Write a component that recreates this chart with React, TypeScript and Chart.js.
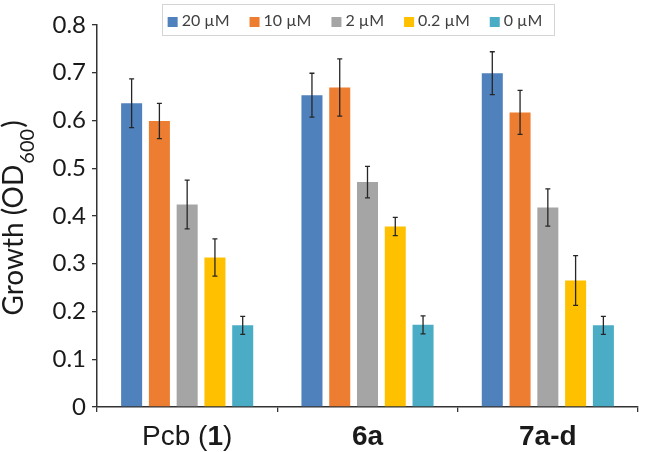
import React, { useEffect, useRef } from "react";
import { Chart, registerables } from "chart.js";

Chart.register(...registerables);

// categories (use **..** to mark bold parts)
const categories = ["Pcb (**1**)", "**6a**", "**7a-d**"];
const seriesLabels = ["20 µM", "10 µM", "2 µM", "0.2 µM", "0 µM"];
const seriesColors = ["#4F81BD", "#ED7D31", "#A5A5A5", "#FFC000", "#4BACC6"];

const s20 = [0.636, 0.653, 0.699];
const s10 = [0.599, 0.669, 0.617];
const s2 = [0.424, 0.471, 0.418];
const s02 = [0.313, 0.378, 0.265];
const s0 = [0.171, 0.172, 0.171];

const e20 = [0.051, 0.046, 0.045];
const e10 = [0.037, 0.06, 0.046];
const e2 = [0.051, 0.033, 0.039];
const e02 = [0.039, 0.019, 0.052];
const e0 = [0.019, 0.019, 0.019];

const seriesValues = [s20, s10, s2, s02, s0];
const seriesErrors = [e20, e10, e2, e02, e0];

const yTitleMain = "Growth (OD";
const yTitleSub = "600";
const yTitleEnd = ")";

const parseParts = (s: string) => {
  const parts: { t: string; b: boolean }[] = [];
  const re = /\*\*(.+?)\*\*/g;
  let last = 0;
  let m;
  while ((m = re.exec(s)) !== null) {
    if (m.index > last) parts.push({ t: s.slice(last, m.index), b: false });
    parts.push({ t: m[1], b: true });
    last = m.index + m[0].length;
  }
  if (last < s.length) parts.push({ t: s.slice(last), b: false });
  return parts;
};

const errorBarPlugin = {
  id: "errorBars",
  afterDatasetsDraw(chart: any) {
    const ctx = chart.ctx;
    const y = chart.scales.y;
    ctx.save();
    ctx.strokeStyle = "#262626";
    ctx.lineWidth = 1.3;
    chart.data.datasets.forEach((ds: any, i: number) => {
      const meta = chart.getDatasetMeta(i);
      meta.data.forEach((el: any, j: number) => {
        const v = ds.data[j];
        const e = ds.errors[j];
        const top = y.getPixelForValue(v + e);
        const bot = y.getPixelForValue(v - e);
        const x = el.x;
        ctx.beginPath();
        ctx.moveTo(x, top);
        ctx.lineTo(x, bot);
        ctx.moveTo(x - 2.5, top);
        ctx.lineTo(x + 2.5, top);
        ctx.moveTo(x - 2.5, bot);
        ctx.lineTo(x + 2.5, bot);
        ctx.stroke();
      });
    });
    ctx.restore();
  },
};

const labelsPlugin = {
  id: "customLabels",
  afterDraw(chart: any) {
    const ctx = chart.ctx;
    const xs = chart.scales.x;
    const area = chart.chartArea;
    ctx.save();
    // x category labels with mixed weight
    ctx.fillStyle = "#1a1a1a";
    ctx.textBaseline = "alphabetic";
    ctx.textAlign = "left";
    chart.data.labels.forEach((lab: string, i: number) => {
      const parts = parseParts(lab);
      const fontFor = (b: boolean) =>
        (b ? "bold " : "") + "28px 'Liberation Sans', Arial, sans-serif";
      let total = 0;
      parts.forEach((p) => {
        ctx.font = fontFor(p.b);
        total += ctx.measureText(p.t).width;
      });
      let x = xs.getPixelForValue(i) - total / 2;
      parts.forEach((p) => {
        ctx.font = fontFor(p.b);
        ctx.fillText(p.t, x, area.bottom + 38);
        x += ctx.measureText(p.t).width;
      });
    });

    // y axis title, rotated, with subscript
    const mainFont = "28px Lato, 'Open Sans', sans-serif";
    const subFont = "20px Lato, 'Open Sans', sans-serif";
    ctx.font = mainFont;
    const w1 = ctx.measureText(yTitleMain).width;
    const w3 = ctx.measureText(yTitleEnd).width;
    ctx.font = subFont;
    const w2 = ctx.measureText(yTitleSub).width;
    const total = w1 + w2 + w3 + 2;
    const cy = (area.top + area.bottom) / 2 + 2;
    ctx.translate(23, cy + total / 2);
    ctx.rotate(-Math.PI / 2);
    ctx.fillStyle = "#1a1a1a";
    ctx.font = mainFont;
    ctx.fillText(yTitleMain, 0, 0);
    ctx.font = subFont;
    ctx.fillText(yTitleSub, w1 + 1, 11);
    ctx.font = mainFont;
    ctx.fillText(yTitleEnd, w1 + w2 + 2, 0);
    ctx.restore();

    // legend
    ctx.save();
    const lf = "16px Lato, 'Open Sans', sans-serif";
    ctx.font = lf;
    const box = 10;
    const gapText = 4;
    const gapItem = 20;
    const widths = chart.data.datasets.map((d: any) => ctx.measureText(d.label).width);
    const tot =
      widths.reduce((a: number, b: number) => a + b, 0) +
      widths.length * (box + gapText) +
      (widths.length - 1) * gapItem;
    const lcx = 355;
    let lx = lcx - tot / 2;
    const ly = 20;
    ctx.strokeStyle = "#d4d4d4";
    ctx.lineWidth = 1;
    ctx.fillStyle = "#ffffff";
    const bx = Math.round(lx - 6) + 0.5;
    const bw = Math.round(tot + 17);
    ctx.fillRect(bx, 4.5, bw, 31);
    ctx.strokeRect(bx, 4.5, bw, 31);
    ctx.textBaseline = "middle";
    chart.data.datasets.forEach((d: any, i: number) => {
      ctx.fillStyle = d.backgroundColor;
      ctx.fillRect(lx, ly - box / 2 + 2, box, box);
      ctx.fillStyle = "#404040";
      ctx.fillText(d.label, lx + box + gapText, ly + 1);
      lx += box + gapText + widths[i] + gapItem;
    });
    ctx.restore();
  },
};

export default function App() {
  const ref = useRef<HTMLCanvasElement>(null);
  useEffect(() => {
    if (!ref.current) return;
    const chart = new Chart(ref.current, {
      type: "bar",
      data: {
        labels: categories,
        datasets: seriesLabels.map((lab, i) => ({
          label: lab,
          data: seriesValues[i],
          errors: seriesErrors[i],
          backgroundColor: seriesColors[i],
          borderWidth: 0,
          categoryPercentage: 0.77,
          barPercentage: 0.757,
        })) as any,
      },
      options: {
        responsive: false,
        animation: false,
        events: [],
        layout: { padding: { top: 25, right: 7, left: 0, bottom: 0 } },
        plugins: {
          legend: { display: false },
          tooltip: { enabled: false },
          title: { display: false },
        },
        scales: {
          x: {
            grid: {
              display: true,
              drawOnChartArea: false,
              drawTicks: true,
              tickLength: 5,
              color: "#333333",
              lineWidth: 1.3,
            },
            border: { display: true, color: "#333333", width: 1.5 },
            ticks: { display: false },
            afterFit: (s: any) => {
              s.height = 45;
            },
          },
          y: {
            min: 0,
            max: 0.8,
            grid: {
              display: true,
              drawOnChartArea: false,
              drawTicks: true,
              tickLength: 5,
              color: "#333333",
              lineWidth: 1.3,
            },
            border: { display: true, color: "#333333", width: 1.5 },
            ticks: {
              stepSize: 0.1,
              padding: 6,
              color: "#1a1a1a",
              font: { family: "Lato, 'Open Sans', sans-serif", size: 24 },
              callback: (v: any) => String(Number(Number(v).toFixed(1))),
            },
            afterFit: (s: any) => {
              s.width = 97;
            },
          },
        },
      },
      plugins: [errorBarPlugin, labelsPlugin],
    });
    return () => chart.destroy();
  }, []);
  return (
    <canvas
      ref={ref}
      width={645}
      height={452}
      style={{ position: "absolute", left: 0, top: 0, width: 645, height: 452, display: "block" }}
    />
  );
}
